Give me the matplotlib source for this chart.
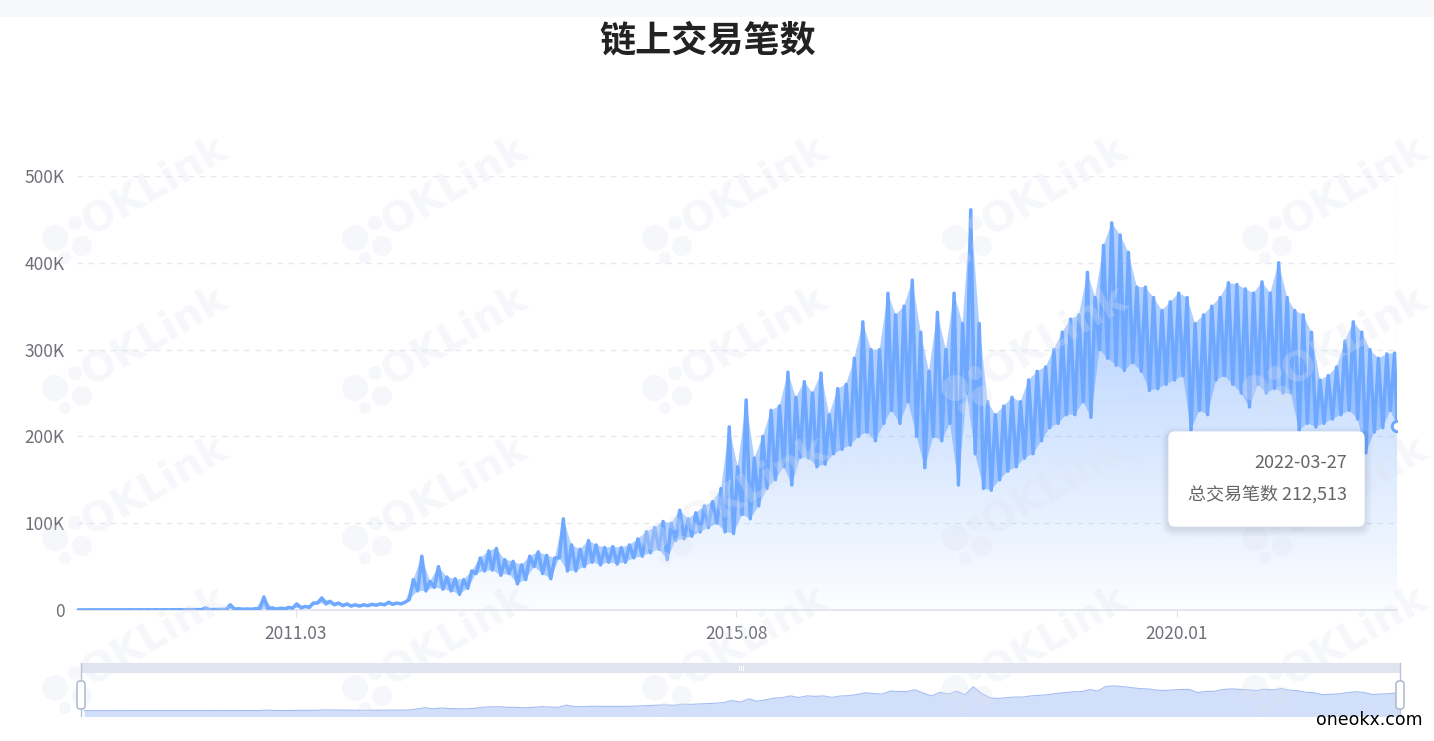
import numpy as np
import pandas as pd
import matplotlib
matplotlib.use('Agg')
import matplotlib.pyplot as plt
import matplotlib.dates as mdates
from matplotlib.patches import FancyBboxPatch, Circle, Rectangle

plt.rcParams['font.family'] = ['Noto Sans CJK SC', 'DejaVu Sans']

W, H = 1434, 741

# ---- dados (milhares de transacoes por mes: pico e vale) ----
first_month = '2009-01'
last_month = '2022-03'

monthly_high = [
    0.1, 0.2, 0.2, 0.2, 0.2, 0.2, 0.3, 0.3, 0.3, 0.3, 0.3, 0.3,        # 2009
    0.4, 0.5, 0.5, 2.5, 0.6, 0.8, 6, 1.5, 1.2, 1.5, 15, 2.5,           # 2010
    2, 3, 7, 4, 8, 14, 10, 8, 7, 6, 6, 6.5,                            # 2011
    7, 9, 8, 9, 35, 62, 33, 50, 38, 36, 35, 45,                        # 2012
    60, 68, 71, 58, 56, 52, 62, 67, 63, 60, 105, 75,                   # 2013
    70, 80, 75, 72, 73, 72, 75, 82, 90, 95, 102, 100,                  # 2014
    115, 105, 112, 120, 125, 140, 211, 165, 242, 175, 200, 230,        # 2015
    235, 274, 245, 263, 250, 273, 225, 255, 260, 290, 332, 300,        # 2016
    300, 365, 340, 350, 380, 320, 275, 343, 300, 365, 330, 461,        # 2017
    330, 240, 225, 235, 245, 240, 265, 275, 280, 300, 320, 335,        # 2018
    340, 389, 360, 420, 446, 432, 412, 372, 372, 360, 345, 355,        # 2019
    365, 360, 330, 340, 350, 360, 377, 375, 370, 365, 378, 365,        # 2020
    400, 360, 345, 340, 320, 265, 270, 280, 310, 332, 320, 300,        # 2021
    290, 295, 296,                                                     # 2022
]

monthly_low = [
    0.0, 0.1, 0.1, 0.1, 0.1, 0.1, 0.1, 0.1, 0.1, 0.1, 0.1, 0.1,        # 2009
    0.2, 0.3, 0.3, 0.4, 0.4, 0.5, 0.8, 0.8, 0.8, 0.9, 1, 1.2,          # 2010
    1, 1.5, 2, 2.5, 3, 8, 7, 6, 5, 4.5, 4.5, 5,                        # 2011
    5.5, 6, 6.5, 7, 12, 22, 22, 26, 24, 22, 18, 25,                    # 2012
    42, 45, 46, 40, 42, 30, 35, 50, 42, 36, 60, 45,                    # 2013
    45, 50, 55, 52, 55, 53, 55, 60, 62, 66, 70, 58,                    # 2014
    80, 82, 85, 90, 95, 100, 90, 88, 110, 105, 120, 140,               # 2015
    150, 165, 144, 176, 175, 165, 168, 180, 185, 190, 200, 205,        # 2016
    195, 215, 230, 215, 240, 200, 164, 200, 195, 215, 144, 250,        # 2017
    180, 140, 138, 150, 160, 165, 175, 180, 195, 210, 215, 225,        # 2018
    225, 240, 222, 300, 290, 282, 276, 285, 275, 253, 255, 260,        # 2019
    265, 270, 207, 230, 225, 265, 270, 260, 250, 234, 260, 250,        # 2020
    255, 250, 250, 207, 215, 211, 215, 220, 225, 230, 220, 181,        # 2021
    205, 210, 230,                                                     # 2022
]

last_date = '2022-03-27'
last_value = 212513

y_ticks = [0, 100000, 200000, 300000, 400000, 500000]
y_tick_labels = ['0', '100K', '200K', '300K', '400K', '500K']
x_tick_dates = ['2011-03-15', '2015-08-13', '2020-01-11']
x_tick_labels = ['2011.03', '2015.08', '2020.01']

title = '链上交易笔数'
tooltip_name = '总交易笔数'

# ---- cores ----
LINE = '#6fa8ff'
GRID = '#e6e9f0'
AXIS = '#e0e3ea'
LABEL = '#6e7079'
WM = '#dfe3ee'

# ---- serie: vale no inicio do mes, pico no meio ----
months = pd.period_range(first_month, last_month, freq='M')
lo_dates = [m.to_timestamp() + pd.Timedelta(days=2) for m in months]
hi_dates = [m.to_timestamp() + pd.Timedelta(days=17) for m in months]
lo_vals = np.array(monthly_low) * 1000
hi_vals = np.array(monthly_high) * 1000

dates, values = [], []
for dl, dh, lo, hi in zip(lo_dates, hi_dates, lo_vals, hi_vals):
    dates += [dl, dh]
    values += [lo, hi]
dates.append(pd.Timestamp(last_date))
values.append(last_value)
x = mdates.date2num(dates)
y = np.array(values, dtype=float)

x0 = mdates.date2num(pd.Timestamp('2009-01-03'))
x1 = mdates.date2num(pd.Timestamp(last_date))

fig = plt.figure(figsize=(W / 100, H / 100), dpi=100)
fig.patch.set_facecolor('white')

# ---- grafico principal ----
ax = fig.add_axes([77 / W, 1 - 610 / H, 1320 / W, 434 / H], zorder=1)
ax.set_facecolor('none')

poly = ax.fill_between(x, y, 0, color='none', lw=0)
rgb = matplotlib.colors.to_rgb(LINE)
grad = np.zeros((256, 1, 4))
grad[..., :3] = rgb
grad[..., 3] = (0.02 + 0.62 * np.linspace(1, 0, 256)).reshape(-1, 1)
im = ax.imshow(grad, extent=[x0, x1, 0, y.max()], aspect='auto',
               origin='upper', zorder=1, interpolation='bilinear')
im.set_clip_path(poly.get_paths()[0], transform=ax.transData)

# faixa do ruido diario: entre os picos e os vales de cada mes
band_x = np.concatenate([mdates.date2num(hi_dates), [x1],
                         mdates.date2num(lo_dates)[::-1]])
band_y = np.concatenate([hi_vals, [last_value], lo_vals[::-1]])
ax.fill(band_x, band_y, color=LINE, alpha=0.55, lw=0, zorder=2)

ax.plot(x, y, color=LINE, lw=2.5, zorder=3)
ax.plot([x1], [last_value], 'o', ms=7.5, mfc='white', mec=LINE, mew=2.2, zorder=5)

ax.set_xlim(x0, x1)
ax.set_ylim(0, 500000)
for v in y_ticks[1:]:
    ax.axhline(v, color=GRID, lw=1, ls=(0, (4, 4)), zorder=0)
ax.axvline(x1, color=AXIS, lw=1, ls=(0, (4, 4)), zorder=0)

for s in ['top', 'right', 'left']:
    ax.spines[s].set_visible(False)
ax.spines['bottom'].set_color(AXIS)
ax.spines['bottom'].set_linewidth(1.2)

ax.set_yticks(y_ticks)
ax.set_yticklabels(y_tick_labels)
ax.set_xticks(mdates.date2num(pd.to_datetime(x_tick_dates)))
ax.set_xticklabels(x_tick_labels)
ax.tick_params(axis='y', length=0, pad=9, labelsize=12.5, labelcolor=LABEL)
ax.tick_params(axis='x', length=5, color=AXIS, pad=6, labelsize=12.5, labelcolor=LABEL)

# ---- barra de zoom (slider) ----
sl = fig.add_axes([81 / W, 1 - 716 / H, 1319 / W, 43 / H], zorder=1)
sl.set_facecolor('#e3eafc')
mx = mdates.date2num([m.to_timestamp() + pd.Timedelta(days=14) for m in months])
mid = (lo_vals + hi_vals) / 2
mx = np.append(mx, x1)
mid = np.append(mid, last_value)
sl.fill_between(mx, mid, -100000, color='#d2dffa', lw=0)
sl.plot(mx, mid, color='#a3bdf3', lw=0.8)
sl.set_xlim(x0, x1)
sl.set_ylim(-80000, 560000)
sl.axis('off')

# ---- camada de sobreposicao em pixels ----
ov = fig.add_axes([0, 0, 1, 1], zorder=3)
ov.set_xlim(0, W)
ov.set_ylim(H, 0)
ov.axis('off')
ov.patch.set_alpha(0)

ov.add_patch(Rectangle((0, 0), W, 17, color='#f7f8fa', lw=0, zorder=0))

# marca d'agua OKLink
for cx in [55, 355, 655, 955, 1255]:
    for cy in [238, 388, 538, 688]:
        for dx, dy, r in [(0, 0, 13), (20, -15, 7), (27, 8, 10), (10, 20, 6)]:
            ov.add_patch(Circle((cx + dx, cy + dy), r, color=WM, alpha=0.28, lw=0, zorder=1))
        ov.text(cx + 36, cy - 2, 'OKLink', rotation=30, rotation_mode='anchor',
                ha='left', va='baseline', fontsize=29, fontweight='bold',
                color=WM, alpha=0.28, family='DejaVu Sans', zorder=1)

# titulo
ov.text(708, 41, title, ha='center', va='center', fontsize=26,
        fontweight='bold', color='#222222', zorder=4)

# slider: barra superior, alcas
ov.add_patch(Rectangle((81, 663), 1319, 10, color='#dfe4ee', lw=0, zorder=2))
for hx in [739, 741, 743]:
    ov.plot([hx, hx], [666, 670], color='white', lw=0.8, zorder=3)
for lx in [81, 1400]:
    ov.plot([lx, lx], [663, 716], color='#b9c3d6', lw=1, zorder=3)
    ov.add_patch(FancyBboxPatch((lx - 4, 681), 8, 28,
                                boxstyle='round,pad=0,rounding_size=3',
                                fc='white', ec='#a6b1c5', lw=1, zorder=4))

# tooltip
bx, by, bw, bh = 1169, 432, 195, 94
for k in range(1, 9):
    ov.add_patch(FancyBboxPatch((bx - k, by - k + 3), bw + 2 * k, bh + 2 * k,
                                boxstyle=f'round,pad=0,rounding_size={6 + k}',
                                fc='black', ec='none', alpha=0.012, zorder=5))
ov.add_patch(FancyBboxPatch((bx, by), bw, bh, boxstyle='round,pad=0,rounding_size=6',
                            fc='white', ec='white', lw=1, zorder=6))
ov.text(1347, 463, pd.Timestamp(last_date).strftime('%Y-%m-%d'), ha='right',
        va='center', fontsize=13, color='#666666', zorder=7)
ov.text(1347, 494, f'{tooltip_name} {last_value:,}', ha='right', va='center',
        fontsize=13, color='#666666', zorder=7)

ov.text(1423, 720, 'oneokx.com', ha='right', va='center', fontsize=12.5,
        color='black', family='DejaVu Sans', zorder=7)

fig.savefig('out.png', dpi=100, facecolor='white')
